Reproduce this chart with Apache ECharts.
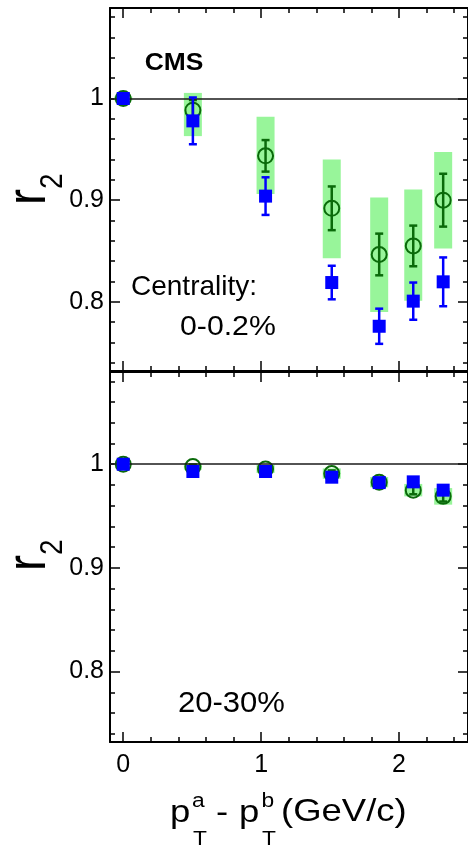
<!DOCTYPE html>
<html><head><meta charset="utf-8">
<script src="https://cdn.jsdelivr.net/npm/echarts@6/dist/echarts.min.js"></script>
<style>html,body{margin:0;padding:0;background:#fff}#c{width:468px;height:848px}</style>
</head><body><div id="c"></div>
<script>
// ---- data ----
const xPts = [0, 0.505, 1.032, 1.512, 1.856, 2.103, 2.32];

// top panel: centrality 0-0.2%
const topOpen     = [1.0, 0.9885, 0.9436, 0.892, 0.8466, 0.855, 0.900];
const topOpenStat = [0, 0.010, 0.0155, 0.0215, 0.0205, 0.020, 0.026];
const topBoxLo    = [0.998, 0.963, 0.906, 0.843, 0.790, 0.801, 0.8525];
const topBoxHi    = [1.002, 1.0055, 0.982, 0.940, 0.9027, 0.9105, 0.9475];
const topFull     = [1.0, 0.978, 0.904, 0.819, 0.776, 0.8007, 0.8197];
const topFullStat = [0, 0.023, 0.0185, 0.0165, 0.0173, 0.0183, 0.024];

// bottom panel: centrality 20-30%
const botOpen     = [1.0, 0.9977, 0.9955, 0.991, 0.9827, 0.975, 0.969];
const botOpenStat = [0, 0.002, 0.002, 0.003, 0.003, 0.004, 0.005];
const botBoxLo    = [0.999, 0.9947, 0.9915, 0.986, 0.9777, 0.969, 0.961];
const botBoxHi    = [1.001, 1.0007, 0.9995, 0.996, 0.9877, 0.981, 0.977];
const botFull     = [1.0, 0.993, 0.993, 0.9875, 0.9823, 0.983, 0.975];
const botFullStat = [0, 0.002, 0.002, 0.003, 0.003, 0.003, 0.004];

// ticks
const xMajorTicks = [0, 1, 2];
const xMinorTicks = [0, 0.2, 0.4, 0.6, 0.8, 1.0, 1.2, 1.4, 1.6, 1.8, 2.0, 2.2, 2.4];
const yMajorTicks = [0.8, 0.9, 1.0];
const yMinorTicks = [0.74, 0.76, 0.78, 0.8, 0.82, 0.84, 0.86, 0.88, 0.9, 0.92, 0.94, 0.96, 0.98, 1.0, 1.02, 1.04, 1.06, 1.08];

// ---- styling ----
const XMIN = -0.096, XMAX = 2.5, YMIN = 0.732, YMAX = 1.089;
const BLUE = '#0000ff', DGREEN = '#0a6a0a', LGREEN = '#98f59a';
const FONT = '"Liberation Sans", Arial, Helvetica, sans-serif';

function xAxesFor(gi, labels) {
  const base = {type: 'value', gridIndex: gi, min: XMIN, max: XMAX, splitLine: {show: false}};
  const mk = (pos, major) => Object.assign({}, base, {
    position: pos,
    axisLine: {show: major, onZero: false, lineStyle: {color: '#000', width: 2}},
    axisTick: {show: true, inside: true, length: major ? 10 : 5,
      customValues: major ? xMajorTicks : xMinorTicks, lineStyle: {color: '#000', width: 1.5}},
    axisLabel: (major && labels && pos === 'bottom') ? {show: true, customValues: xMajorTicks, margin: 11,
      fontFamily: FONT, fontSize: 25, color: '#000', formatter: v => String(Math.round(v))} : {show: false}
  });
  return [mk('bottom', true), mk('bottom', false), mk('top', true), mk('top', false)];
}
function yAxesFor(gi) {
  const base = {type: 'value', gridIndex: gi, min: YMIN, max: YMAX, splitLine: {show: false}};
  const mk = (pos, major) => Object.assign({}, base, {
    position: pos,
    axisLine: {show: major, onZero: false, lineStyle: {color: '#000', width: 2}},
    axisTick: {show: true, inside: true, length: major ? 10 : 5,
      customValues: major ? yMajorTicks : yMinorTicks, lineStyle: {color: '#000', width: 1.5}},
    axisLabel: (major && pos === 'left') ? {show: true, customValues: yMajorTicks, margin: 6,
      fontFamily: FONT, fontSize: 25, color: '#000',
      formatter: v => (Math.abs(v - 1) < 1e-9 ? '1' : v.toFixed(1))} : {show: false}
  });
  return [mk('left', true), mk('left', false), mk('right', true), mk('right', false)];
}

function boxSeries(ax, lo, hi) {
  return {
    type: 'custom', xAxisIndex: ax, yAxisIndex: ax, z: 1, silent: true,
    data: xPts.map((x, i) => [x, lo[i], hi[i]]),
    encode: {x: 0, y: [1, 2]},
    renderItem: (p, api) => {
      const a = api.coord([api.value(0), api.value(2)]);
      const b = api.coord([api.value(0), api.value(1)]);
      return {type: 'rect', shape: {x: a[0] - 9, y: a[1], width: 18, height: b[1] - a[1]},
        style: {fill: LGREEN}};
    }
  };
}
function errSeries(ax, vals, errs, color, z) {
  return {
    type: 'custom', xAxisIndex: ax, yAxisIndex: ax, z: z, silent: true,
    data: xPts.map((x, i) => [x, vals[i], errs[i]]),
    encode: {x: 0, y: 1},
    renderItem: (p, api) => {
      const x = api.value(0), v = api.value(1), e = api.value(2);
      if (!(e > 0)) return null;
      const t = api.coord([x, v + e]), b = api.coord([x, v - e]);
      const st = {stroke: color, lineWidth: 2.5};
      return {type: 'group', children: [
        {type: 'line', shape: {x1: t[0], y1: t[1], x2: b[0], y2: b[1]}, style: st},
        {type: 'line', shape: {x1: t[0] - 4, y1: t[1], x2: t[0] + 4, y2: t[1]}, style: st},
        {type: 'line', shape: {x1: b[0] - 4, y1: b[1], x2: b[0] + 4, y2: b[1]}, style: st}
      ]};
    }
  };
}
function refLine(ax) {
  return {type: 'scatter', xAxisIndex: ax, yAxisIndex: ax, z: 2, data: [], silent: true,
    markLine: {silent: true, symbol: 'none', animation: false, label: {show: false},
      lineStyle: {color: '#1a1a1a', width: 1.5, type: 'solid'}, data: [{yAxis: 1}]}};
}
function openSeries(ax, vals) {
  return {type: 'scatter', xAxisIndex: ax, yAxisIndex: ax, z: 4, symbol: 'circle', symbolSize: 15,
    itemStyle: {color: 'rgba(255,255,255,0)', borderColor: DGREEN, borderWidth: 2, opacity: 1},
    data: xPts.map((x, i) => [x, vals[i]])};
}
function fullSeries(ax, vals) {
  return {type: 'scatter', xAxisIndex: ax, yAxisIndex: ax, z: 6, symbol: 'rect', symbolSize: 13,
    itemStyle: {color: BLUE, opacity: 1},
    data: xPts.map((x, i) => [x, vals[i]])};
}

function txt(x, y, text, fs, opts) {
  opts = opts || {};
  const el = {type: 'text', x: x, y: y, silent: true,
    style: Object.assign({text: text, fontSize: fs, fontFamily: FONT, fill: '#000',
      align: 'left', verticalAlign: 'middle'}, opts.style || {})};
  ['scaleX', 'scaleY', 'rotation'].forEach(k => { if (opts[k] !== undefined) el[k] = opts[k]; });
  return el;
}

const chart = echarts.init(document.getElementById('c'), null, {renderer: 'canvas'});
chart.setOption({
  animation: false,
  backgroundColor: '#fff',
  grid: [
    {left: 110, right: -3, top: 8, height: 363},
    {left: 110, right: -3, top: 372, height: 370}
  ],
  xAxis: xAxesFor(0, false).concat(xAxesFor(1, true)),
  yAxis: yAxesFor(0).concat(yAxesFor(1)),
  series: [
    boxSeries(0, topBoxLo, topBoxHi), refLine(0),
    errSeries(0, topOpen, topOpenStat, DGREEN, 3), openSeries(0, topOpen),
    errSeries(0, topFull, topFullStat, BLUE, 5), fullSeries(0, topFull),
    boxSeries(4, botBoxLo, botBoxHi), refLine(4),
    errSeries(4, botOpen, botOpenStat, DGREEN, 3), openSeries(4, botOpen),
    errSeries(4, botFull, botFullStat, BLUE, 5), fullSeries(4, botFull)
  ],
  graphic: [
    txt(174, 63, 'CMS', 24, {scaleX: 1.1, style: {fontWeight: 'bold', align: 'center'}}),
    txt(131, 287, 'Centrality:', 28),
    txt(180, 327, '0-0.2%', 28, {scaleX: 1.08}),
    txt(178, 704, '20-30%', 29, {scaleX: 1.07}),
    // y titles r_2
    txt(30, 205, 'r', 48, {rotation: Math.PI / 2, scaleY: 1.15}),
    txt(53, 189, '2', 28, {rotation: Math.PI / 2, scaleY: 1.15}),
    txt(30, 571, 'r', 48, {rotation: Math.PI / 2, scaleY: 1.15}),
    txt(53, 555, '2', 28, {rotation: Math.PI / 2, scaleY: 1.15}),
    // x title: p_T^a - p_T^b(GeV/c)
    txt(170, 813, 'p', 32, {scaleX: 1.14}),
    txt(192, 801, 'a', 20, {scaleX: 1.14}),
    txt(193, 839, 'T', 20, {scaleX: 1.14}),
    txt(216, 813, '-', 32, {scaleX: 1.14}),
    txt(239, 813, 'p', 32, {scaleX: 1.14}),
    txt(261.5, 801, 'b', 20, {scaleX: 1.14}),
    txt(262, 839, 'T', 20, {scaleX: 1.14}),
    txt(281, 812, '(GeV/c)', 32, {scaleX: 1.14})
  ]
});
</script>
</body></html>
